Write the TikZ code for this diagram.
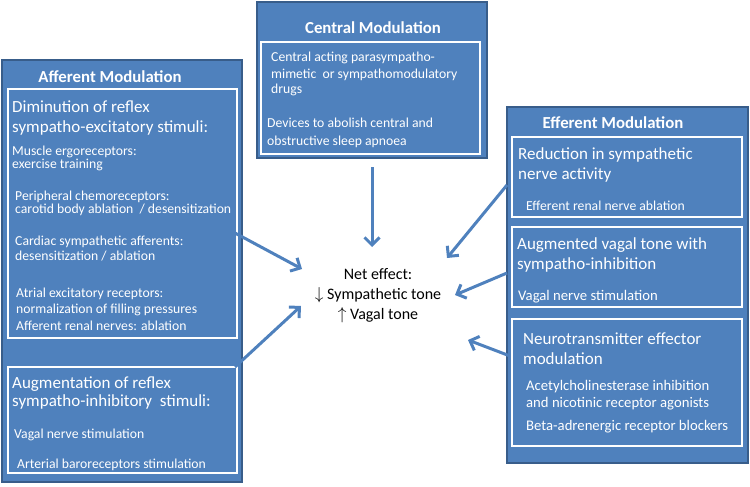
\documentclass[tikz,border=0pt]{standalone}
\usepackage{fontspec}
\setmainfont{Carlito}
\usetikzlibrary{arrows.meta}
\definecolor{boxblue}{RGB}{79,129,189}
\definecolor{edgeblue}{RGB}{56,93,138}
\begin{document}
\begin{tikzpicture}[x=1pt,y=-1pt,
  outerbox/.style={draw=edgeblue,fill=boxblue,line width=1.5pt},
  innerbox/.style={draw=white,line width=1.3pt},
  head/.style={text=white,inner sep=0,font=\fontsize{16.8}{20}\selectfont\bfseries},
  big/.style={text=white,anchor=base west,inner sep=0,font=\fontsize{17}{20}\selectfont},
  mid/.style={text=white,anchor=base west,inner sep=0,font=\fontsize{13.7}{16}\selectfont},
  small/.style={text=white,anchor=base west,inner sep=0,font=\fontsize{13.7}{16}\selectfont},
  rsmall/.style={text=white,anchor=base west,inner sep=0,font=\fontsize{14.7}{17}\selectfont},
  conn/.style={draw=boxblue,line width=3pt,-{Straight Barb[length=7.5pt,width=15pt]}}]
\useasboundingbox (0,0) rectangle (750,487);
% boxes
\draw[outerbox] (2,60) rectangle (242,482);
\draw[innerbox] (8,89) rectangle (237,338);
\draw[innerbox] (8,367) rectangle (237,473);
\draw[outerbox] (257,2) rectangle (487,158);
\draw[innerbox] (261,42) rectangle (480,154);
\draw[outerbox] (507,107) rectangle (748,463);
\draw[innerbox] (512,137) rectangle (742,217);
\draw[innerbox] (512,227) rectangle (742,307);
\draw[innerbox] (512,319) rectangle (742,446);
% headers
\node[head] (hA) at (110,77) {Afferent Modulation};
\node[head] (hC) at (373,28) {Central Modulation};
\node[head] (hE) at (613,123) {Efferent Modulation};
% afferent
\node[big] (a1) at (12,113) {Diminution of reflex};
\node[big] (a2) at (12,132) {sympatho-excitatory stimuli:};
\node[small] (a3) at (12,155) {Muscle ergoreceptors:};
\node[small] (a4) at (12,168) {exercise training};
\node[small] (a5) at (15,200) {Peripheral chemoreceptors:};
\node[small] (a6) at (15,213) {carotid body ablation \ / desensitization};
\node[small] (a7) at (15,245) {Cardiac sympathetic afferents:};
\node[small] (a8) at (15,260) {desensitization / ablation};
\node[small] (a9) at (16,297) {Atrial excitatory receptors:};
\node[small] (a10) at (16,313) {normalization of filling pressures};
\node[small] (a11) at (16,330) {Afferent renal nerves: ablation};
\node[big] (a12) at (12,388) {Augmentation of reflex};
\node[big] (a13) at (12,406) {sympatho-inhibitory \ stimuli:};
\node[small] (a14) at (14,438) {Vagal nerve stimulation};
\node[small] (a15) at (17,468) {Arterial baroreceptors stimulation};
% central
\node[mid] (c1) at (271,62) {Central acting parasympatho-};
\node[mid] (c2) at (271,78) {mimetic \ or sympathomodulatory};
\node[mid] (c3) at (271,94) {drugs};
\node[mid] (c4) at (267,128) {Devices to abolish central and};
\node[mid] (c5) at (267,145) {obstructive sleep apnoea};
% efferent
\node[big] (e1) at (518,159) {Reduction in sympathetic};
\node[big] (e2) at (518,179) {nerve activity};
\node[mid] (e3) at (526,210) {Efferent renal nerve ablation};
\node[big] (e4) at (517,249) {Augmented vagal tone with};
\node[big] (e5) at (517,269) {sympatho-inhibition};
\node[rsmall] (e6) at (518,300) {Vagal nerve stimulation};
\node[big] (e7) at (523,344) {Neurotransmitter effector};
\node[big] (e8) at (523,364) {modulation};
\node[rsmall] (e9) at (526,390) {Acetylcholinesterase inhibition};
\node[rsmall] (e10) at (526,407) {and nicotinic receptor agonists};
\node[rsmall] (e11) at (526,430) {Beta-adrenergic receptor blockers};
% net effect
\node[align=center,inner sep=0,font=\fontsize{16}{20}\selectfont] (net) at (378,296)
  {Net effect:\\ $\downarrow$ Sympathetic tone\\ $\uparrow$ Vagal tone};
% arrow endpoints
\coordinate (s1) at (372,167); \coordinate (t1) at (372,247);
\coordinate (s2) at (235,233); \coordinate (t2) at (302,269);
\coordinate (s3) at (235,367); \coordinate (t3) at (301,306);
\coordinate (s4) at (507,185); \coordinate (t4) at (447,258);
\coordinate (s5) at (507,273); \coordinate (t5) at (455,295);
\coordinate (s6) at (510,356); \coordinate (t6) at (468,340);
\draw[conn] (s1) -- (t1);
\draw[conn] (s2) -- (t2);
\draw[conn] (s3) -- (t3);
\draw[conn] (s4) -- (t4);
\draw[conn] (s5) -- (t5);
\draw[conn] (s6) -- (t6);
\end{tikzpicture}
\end{document}
